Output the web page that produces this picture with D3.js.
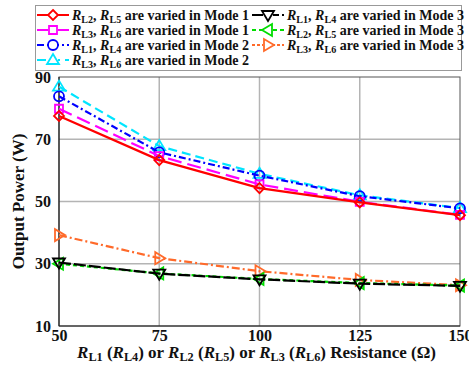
<!DOCTYPE html>
<html>
<head>
<meta charset="utf-8">
<script src="https://cdn.jsdelivr.net/npm/d3@7"></script>
<style>
  body { margin: 0; background: #fff; }
  text { font-family: "Liberation Serif", "Times New Roman", serif; font-weight: bold; }
</style>
</head>
<body>
<div id="chart"></div>
<script>
const resistances = [50, 75, 100, 125, 150];
const yTicks = [10, 30, 50, 70, 90];

const redMode1 = [77.5, 63.3, 54.3, 49.7, 45.6];
const magentaMode1 = [79.8, 64.6, 55.5, 49.9, 45.7];
const blueMode2 = [83.8, 65.8, 58.3, 51.7, 47.8];
const cyanMode2 = [86.9, 67.8, 58.9, 52.0, 47.9];
const blackMode3 = [30.4, 26.8, 25.0, 23.6, 22.9];
const greenMode3 = [30.0, 26.9, 25.1, 23.8, 23.0];
const orangeMode3 = [39.2, 31.8, 27.6, 24.8, 23.1];

const series = [
  { name: ["L2", "L5", "1"], values: redMode1, color: "#ff0000", dash: null, marker: "diamond" },
  { name: ["L3", "L6", "1"], values: magentaMode1, color: "#ff00ff", dash: "14,6", marker: "square" },
  { name: ["L1", "L4", "2"], values: blueMode2, color: "#0000ff", dash: "7,3,2,3", marker: "circle" },
  { name: ["L3", "L6", "2"], values: cyanMode2, color: "#00e5ff", dash: "9,5", marker: "up" },
  { name: ["L1", "L4", "3"], values: blackMode3, color: "#000000", dash: "12,3", marker: "down" },
  { name: ["L2", "L5", "3"], values: greenMode3, color: "#00dd00", dash: "4,3", marker: "left" },
  { name: ["L3", "L6", "3"], values: orangeMode3, color: "#ff6a2a", dash: "8,3,2,3", marker: "right" }
];

const width = 469, height = 369;
const margin = { top: 77, right: 9, bottom: 43, left: 59 };
const innerW = width - margin.left - margin.right;
const innerH = height - margin.top - margin.bottom;

const svg = d3.select("#chart").append("svg")
  .attr("width", width)
  .attr("height", height);

const g = svg.append("g").attr("transform", `translate(${margin.left},${margin.top})`);

const x = d3.scaleLinear().domain([50, 150]).range([0, innerW]);
const y = d3.scaleLinear().domain([10, 90]).range([innerH, 0]);

// grid
g.append("g").selectAll("line")
  .data(resistances.slice(1, -1))
  .join("line")
  .attr("x1", d => x(d)).attr("x2", d => x(d))
  .attr("y1", 0).attr("y2", innerH)
  .attr("stroke", "#b4b4b4").attr("stroke-width", 1.5);
g.append("g").selectAll("line")
  .data(yTicks.slice(1, -1))
  .join("line")
  .attr("x1", 0).attr("x2", innerW)
  .attr("y1", d => y(d)).attr("y2", d => y(d))
  .attr("stroke", "#b4b4b4").attr("stroke-width", 1.5);

// frame
g.append("rect")
  .attr("width", innerW).attr("height", innerH)
  .attr("fill", "none").attr("stroke", "#555").attr("stroke-width", 1);
g.append("line").attr("x1", 0).attr("x2", 0).attr("y1", 0).attr("y2", innerH)
  .attr("stroke", "#222").attr("stroke-width", 1.2);
g.append("line").attr("x1", 0).attr("x2", innerW).attr("y1", innerH).attr("y2", innerH)
  .attr("stroke", "#222").attr("stroke-width", 1.2);

// axes
const xAxis = g.append("g")
  .attr("transform", `translate(0,${innerH})`)
  .call(d3.axisBottom(x).tickValues(resistances).tickSize(0).tickPadding(4));
const yAxis = g.append("g")
  .call(d3.axisLeft(y).tickValues(yTicks).tickSize(0).tickPadding(8));
[xAxis, yAxis].forEach(a => {
  a.select(".domain").remove();
  a.selectAll("text")
    .attr("font-family", "Liberation Serif, Times New Roman, serif")
    .attr("font-weight", "bold")
    .attr("font-size", 16)
    .attr("fill", "#111");
});

function markerPath(type) {
  const s = 5;
  switch (type) {
    case "diamond": return `M0,${-s}L${s},0L0,${s}L${-s},0Z`;
    case "square": return `M${-s + 1},${-s + 1}H${s - 1}V${s - 1}H${-s + 1}Z`;
    case "up": return `M0,${-s - 1}L${s + 1},${s - 1}L${-s - 1},${s - 1}Z`;
    case "down": return `M0,${s + 1}L${s + 1},${-s + 1}L${-s - 1},${-s + 1}Z`;
    case "left": return `M${-s - 1},0L${s - 1},${-s - 1}L${s - 1},${s + 1}Z`;
    case "right": return `M${s + 1},0L${-s + 1},${-s - 1}L${-s + 1},${s + 1}Z`;
  }
  return null;
}

function drawMarker(sel, type, color) {
  if (type === "circle") {
    sel.append("circle").attr("r", 5).attr("fill", "none")
      .attr("stroke", color).attr("stroke-width", 1.8);
  } else {
    sel.append("path").attr("d", markerPath(type)).attr("fill", "none")
      .attr("stroke", color).attr("stroke-width", 1.8);
  }
}

const line = d3.line()
  .x((d, i) => x(resistances[i]))
  .y(d => y(d));

const linesG = g.append("g");
series.slice().reverse().forEach(s => {
  linesG.append("path")
    .datum(s.values)
    .attr("d", line)
    .attr("fill", "none")
    .attr("stroke", s.color)
    .attr("stroke-width", 2.2)
    .attr("stroke-dasharray", s.dash);
  s.values.forEach((v, i) => {
    const m = linesG.append("g").attr("transform", `translate(${x(resistances[i])},${y(v)})`);
    drawMarker(m, s.marker, s.color);
  });
});

// axis titles: subscripts drop 3px, following text comes back up 3px
function richLabel(textSel, parts, shift) {
  parts.forEach(p => {
    const t = textSel.append("tspan").text(p.t);
    if (p.i) t.attr("font-style", "italic");
    if (p.sub) t.attr("font-size", "0.72em").attr("dy", shift);
    if (p.up) t.attr("dy", -shift);
  });
}

const xTitle = svg.append("text")
  .attr("x", margin.left + innerW / 2 - 3)
  .attr("y", 358)
  .attr("text-anchor", "middle")
  .attr("font-size", 17)
  .attr("fill", "#111");
richLabel(xTitle, [
  { t: "R", i: true }, { t: "L1", sub: true }, { t: " (", up: true }, { t: "R", i: true }, { t: "L4", sub: true },
  { t: ") or ", up: true }, { t: "R", i: true }, { t: "L2", sub: true }, { t: " (", up: true }, { t: "R", i: true },
  { t: "L5", sub: true }, { t: ") or ", up: true }, { t: "R", i: true }, { t: "L3", sub: true }, { t: " (", up: true },
  { t: "R", i: true }, { t: "L6", sub: true }, { t: ") Resistance (Ω)", up: true }
], 3);

svg.append("text")
  .attr("transform", `translate(24,${margin.top + innerH / 2}) rotate(-90)`)
  .attr("text-anchor", "middle")
  .attr("font-size", 17)
  .attr("fill", "#111")
  .text("Output Power (W)");

// legend
const legend = svg.append("g");
legend.append("rect")
  .attr("x", 35.5).attr("y", 5.5).attr("width", 426).attr("height", 65)
  .attr("fill", "#fff").attr("stroke", "#999").attr("stroke-width", 1);

const rows = [15, 30, 45, 60];
series.forEach((s, k) => {
  const col = k < 4 ? 0 : 1;
  const row = k < 4 ? k : k - 4;
  const lx = col === 0 ? 37 : 252;
  const ly = rows[row];
  const item = legend.append("g").attr("transform", `translate(${lx},${ly})`);
  item.append("line")
    .attr("x1", 0).attr("x2", 32).attr("y1", 0).attr("y2", 0)
    .attr("stroke", s.color).attr("stroke-width", 2)
    .attr("stroke-dasharray", s.dash ? (s.marker === "right" ? "3,2" : s.dash) : null);
  const mg = item.append("g").attr("transform", "translate(16,0)");
  mg.append("rect").attr("x", -5).attr("y", -5).attr("width", 10).attr("height", 10).attr("fill", "#fff");
  drawMarker(mg, s.marker, s.color);
  const t = item.append("text")
    .attr("x", 35).attr("y", 5)
    .attr("font-size", 14)
    .attr("fill", "#111");
  richLabel(t, [
    { t: "R", i: true }, { t: s.name[0], sub: true }, { t: ", ", up: true },
    { t: "R", i: true }, { t: s.name[1], sub: true }, { t: " are varied in Mode " + s.name[2], up: true }
  ], 2.5);
});
</script>
</body>
</html>
